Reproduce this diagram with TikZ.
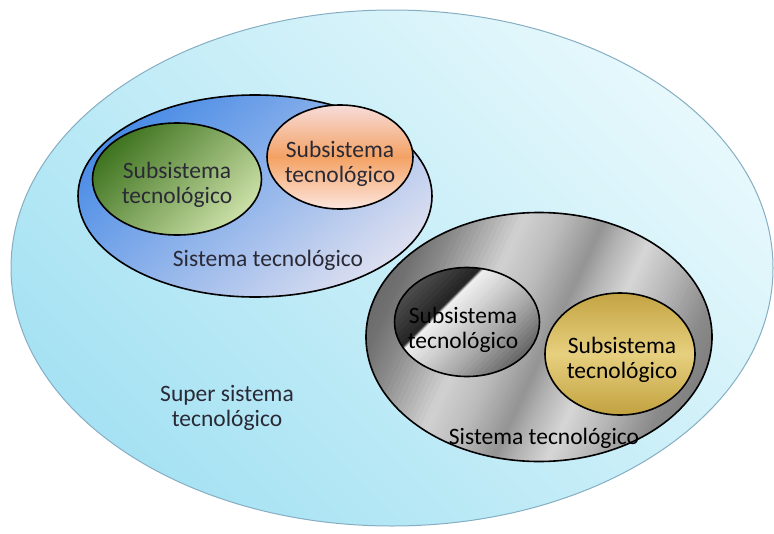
\documentclass[tikz,border=0pt]{standalone}
\usepackage{fontspec}
\setmainfont{Carlito}
\usetikzlibrary{shapes.geometric}

\definecolor{skyA}{HTML}{E6F8FC}
\definecolor{skyB}{HTML}{A6E2F3}
\definecolor{skyLine}{HTML}{86AEC2}
\definecolor{blueA}{HTML}{4A8CE6}
\definecolor{blueB}{HTML}{DCDFF0}
\definecolor{greenA}{HTML}{3F7420}
\definecolor{greenB}{HTML}{CADFA6}
\definecolor{orTop}{HTML}{F7DCDA}
\definecolor{orMid}{HTML}{F4A264}
\definecolor{orBot}{HTML}{FCE6DE}
\definecolor{goldA}{HTML}{C4A443}
\definecolor{goldB}{HTML}{E6CF7E}
\definecolor{goldC}{HTML}{C2A240}
\definecolor{ink}{HTML}{2A2A36}

\tikzset{
  ring/.style={ellipse, draw=black, line width=1.6pt, inner sep=0pt},
  lbl/.style={text=ink, align=center, font=\fontsize{23.5}{25}\selectfont},
}

% Metallic fill made of thin grey strips.
% #1 = centre, #2 = x radius, #3 = y radius, #4 = strip angle,
% #5 = segments d1/g1/d2/g2 (offset along the axis / percent of black)
\newcommand\metalfill[5]{%
  \begin{scope}
    \clip #1 ellipse [x radius=#2, y radius=#3];
    \begin{scope}[shift={#1}, rotate=#4]
      \foreach \da/\ga/\db/\gb in {#5} {
        \foreach \k in {0,...,11} {
          \pgfmathsetmacro\dlo{\da+(\db-\da)*\k/12}
          \pgfmathsetmacro\dhi{\da+(\db-\da)*(\k+1)/12+0.6}
          \pgfmathsetmacro\gv{\ga+(\gb-\ga)*(\k+0.5)/12}
          \fill[black!\gv] (\dlo,-320) rectangle (\dhi,320);
        }
      }
    \end{scope}
  \end{scope}}

\begin{document}
\begin{tikzpicture}[x=1pt,y=-1pt]
\useasboundingbox (0,0) rectangle (774,533);

% super system
\node[ellipse, draw=skyLine, line width=1pt, inner sep=0pt,
      minimum width=762pt, minimum height=516pt,
      top color=skyA, bottom color=skyB, shading angle=-45] (super) at (392,268) {};

% upper system with two subsystems
\node[ring, minimum width=354pt, minimum height=202pt,
      top color=blueA, bottom color=blueB, shading angle=40] (sysA) at (255,196) {};
\node[ring, minimum width=169pt, minimum height=112pt,
      top color=greenA, bottom color=greenB, shading angle=45] (green) at (177,179) {};
\node[ring, minimum width=146pt, minimum height=104pt,
      top color=orTop, bottom color=orBot, middle color=orMid] (orange) at (340,157) {};

% lower system: brushed steel
\metalfill{(539,337)}{173}{124.5}{-25}{
  -200/62/-150/56, -150/56/-120/45, -120/45/-65/18, -65/18/-30/26,
  -30/26/10/42, 10/42/30/30, 30/30/60/16, 60/16/95/28,
  95/28/140/46, 140/46/200/55}
\node[ring, minimum width=346pt, minimum height=249pt] (sysB) at (539,337) {};

% dark chrome subsystem
\metalfill{(467,322)}{72.5}{54.5}{-45}{
  -80/62/-28/86, -28/86/-25/6, -25/6/-5/16, -5/16/30/36, 30/36/80/72}
\node[ring, minimum width=145pt, minimum height=109pt] (silver) at (467,322) {};

% gold subsystem
\node[ring, minimum width=150pt, minimum height=122pt,
      top color=goldA, bottom color=goldC, middle color=goldB] (gold) at (620,354) {};

% labels
\node[lbl] at ([yshift=-6pt]green.center) {Subsistema\\tecnológico};
\node[lbl] at ([yshift=-7pt]orange.center) {Subsistema\\tecnológico};
\node[lbl] at (268,260) {Sistema tecnológico};
\node[lbl, text=black] at ([xshift=-4pt,yshift=-8pt]silver.center) {Subsistema\\tecnológico};
\node[lbl, text=black] at ([xshift=2pt,yshift=-6pt]gold.center) {Subsistema\\tecnológico};
\node[lbl, text=black] at (544,438) {Sistema tecnológico};
\node[lbl] at (227,408) {Super sistema\\tecnológico};
\end{tikzpicture}
\end{document}
